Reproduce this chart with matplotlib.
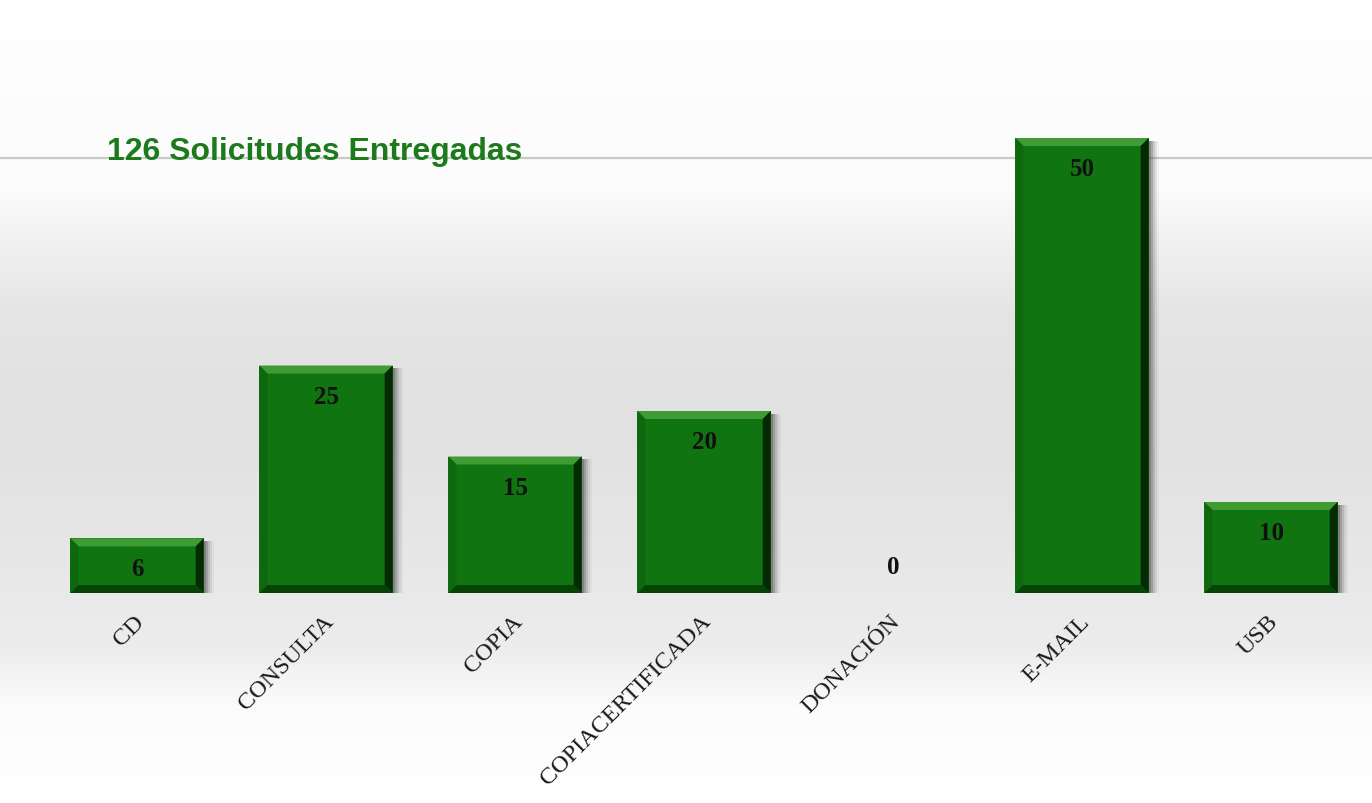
import matplotlib.pyplot as plt
import numpy as np
from matplotlib.patches import Polygon, Rectangle

# data
categorias = ['CD', 'CONSULTA', 'COPIA', 'COPIACERTIFICADA', 'DONACIÓN', 'E-MAIL', 'USB']
valores = [6, 25, 15, 20, 0, 50, 10]
titulo = '126 Solicitudes Entregadas'

W, H, DPI = 1372, 804, 100
fig = plt.figure(figsize=(W / DPI, H / DPI), dpi=DPI)

# background gradient (white -> light grey -> white)
bg = fig.add_axes([0, 0, 1, 1], zorder=-5)
ypix = np.arange(H)
prof = np.interp(ypix, [0, 190, 310, 430, 560, 650, 710, 804],
                 [255, 251, 229, 225, 231, 237, 252, 255]) / 255.0
img = np.repeat(prof[:, None], 4, axis=1)
img = np.dstack([img, img, img])
bg.imshow(img, aspect='auto', extent=[0, 1, 0, 1], origin='upper')
bg.set_axis_off()

# plotting axes: baseline at 594px from top, ~9.1 px per unit
ax = fig.add_axes([0, 210 / H, 1, 547 / H])
ax.set_xlim(-0.725, 6.534)
ax.set_ylim(0, 547 / 9.1)
ax.patch.set_alpha(0)
ax.set_axis_off()

ax.axhline(47.8, color='#c9c9c9', lw=1.6, zorder=1)

x = np.arange(len(categorias))
ancho = 0.705
barras = ax.bar(x, valores, width=ancho, color='#107410', zorder=3)

# bevel size in data units
bx = 8 / 189.0
by = 8 / 9.1
for b, v in zip(barras, valores):
    if v == 0:
        continue
    x0, w, h = b.get_x(), b.get_width(), b.get_height()
    x1 = x0 + w
    # soft shadow at right
    for k, a in enumerate([0.30, 0.22, 0.15, 0.09, 0.05]):
        off = (2 + 2 * k) / 189.0
        ax.add_patch(Rectangle((x0 + off, -0.3), w, h, color='#404040',
                               alpha=a, lw=0, zorder=2))
    # top bevel
    ax.add_patch(Polygon([(x0, h), (x1, h), (x1 - bx, h - by), (x0 + bx, h - by)],
                         closed=True, color='#3f9b33', lw=0, zorder=4))
    # left bevel
    ax.add_patch(Polygon([(x0, h), (x0 + bx, h - by), (x0 + bx, by), (x0, 0)],
                         closed=True, color='#0e680e', lw=0, zorder=4))
    # right bevel
    ax.add_patch(Polygon([(x1, h), (x1 - bx, h - by), (x1 - bx, by), (x1, 0)],
                         closed=True, color='#042a04', lw=0, zorder=4))
    # bottom bevel
    ax.add_patch(Polygon([(x0, 0), (x1, 0), (x1 - bx, by), (x0 + bx, by)],
                         closed=True, color='#064406', lw=0, zorder=4))

# value labels
for i, v in enumerate(valores):
    dy = -22 if v > 0 else 19
    ax.annotate(str(v), xy=(i, v), xytext=(0, dy), textcoords='offset points',
                ha='center', va='center', fontsize=18, fontweight='bold',
                family='Liberation Serif', color='#111111', zorder=6)

# category labels rotated
for i, c in enumerate(categorias):
    ax.annotate(c, xy=(i, 0), xytext=(3, -18), textcoords='offset points',
                rotation=45, rotation_mode='anchor', ha='right', va='center',
                fontsize=17.5, family='Liberation Serif', color='#1a1a1a',
                annotation_clip=False)

fig.text(107 / W, (H - 160) / H, titulo, fontsize=23, fontweight='bold',
         family='Liberation Sans', color='#1c7a1c', va='baseline', ha='left')

fig.savefig('out.png', dpi=DPI)
